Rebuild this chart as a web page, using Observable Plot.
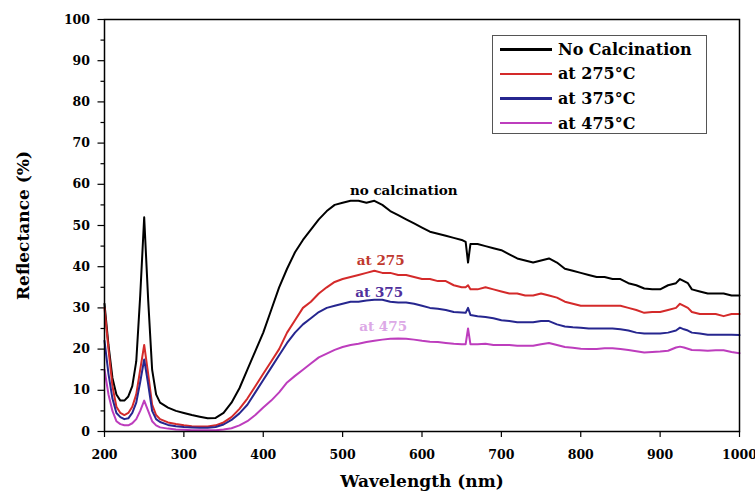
<!DOCTYPE html>
<html>
<head>
<meta charset="utf-8">
<script src="https://cdn.jsdelivr.net/npm/d3@7"></script>
<script src="https://cdn.jsdelivr.net/npm/@observablehq/plot@0.6"></script>
<style>
  html, body { margin: 0; padding: 0; background: #fff; }
  #wrap { position: relative; width: 755px; height: 492px; }
  #legend {
    position: absolute; left: 492px; top: 35px; width: 215px; height: 99px;
    box-sizing: border-box; border: 1px solid #555; background: #fff;
    padding-top: 1px; font-family: 'DejaVu Serif'; font-weight: bold; font-size: 16px; color: #000;
  }
  .row { height: 24.6px; display: flex; align-items: center; white-space: nowrap; }
  .sw { width: 52px; height: 2.6px; margin-left: 7px; margin-right: 6px; flex: none; }
</style>
</head>
<body>
<div id="wrap"></div>
<script>
// ---- data ----
const wl = [200,205,210,215,220,225,230,235,240,245,
  250,255,260,265,270,
  280,290,300,310,320,330,340,350,360,370,
  380,390,400,410,420,430,440,450,460,470,
  480,490,500,510,520,530,540,550,560,570,
  580,590,600,610,620,630,640,650,655,658,
  661,670,680,690,700,710,720,730,740,750,
  760,770,780,790,800,810,820,830,840,850,
  860,870,880,890,900,910,920,925,930,935,
  940,950,960,970,980,990,1000];

const noCalc = [31,21,13,9,7.5,7.5,8.5,11,17,33,
  52,32,15,9,7,
  5.8,5,4.5,4,3.6,3.2,3.3,4.5,7,10.5,
  15,19.5,24,29.5,35,39.5,43.5,46.5,49,51.5,
  53.5,55,55.5,56,56,55.5,56,55,53.5,52.5,
  51.5,50.5,49.5,48.5,48,47.5,47,46.5,46,41,
  45.5,45.5,45,44.5,44,43,42,41.5,41,41.5,
  42,41,39.5,39,38.5,38,37.5,37.5,37,37,
  36,35.5,34.7,34.5,34.5,35.5,36,37,36.5,36,
  34.5,34,33.5,33.5,33.5,33,33];

const at275 = [30,20,11,6,4.5,4,4.5,6,9,15,
  21,14,6.5,4,3,
  2.2,1.8,1.5,1.3,1.2,1.2,1.5,2.2,3.5,5.5,
  8,11,14,17,20,24,27,30,31.5,33.5,
  35,36.3,37,37.5,38,38.5,39,38.5,38.5,38,
  38,37.5,37,37,36.5,36.5,35.5,35,35,35.5,
  34.5,34.5,35,34.5,34,33.5,33.5,33,33,33.5,
  33,32.5,31.5,31,30.5,30.5,30.5,30.5,30.5,30.5,
  30,29.5,28.8,29,29,29.5,30,31,30.5,30,
  29,28.5,28.5,28.5,28,28.5,28.5];

const at375 = [22,14,8,4.5,3.5,3,3.2,4.5,7,12,
  17.5,11.5,5,3,2.3,
  1.6,1.3,1.1,1,0.9,0.9,1.1,1.7,2.8,4.4,
  6.5,9.5,12.5,15.5,18.5,21.5,24,26,27.5,29,
  30,30.5,31,31.5,31.5,31.8,32,32,31.5,31.3,
  31.3,31,30.5,30,29.8,29.5,29,28.9,28.8,30,
  28.3,28,27.8,27.5,27,26.8,26.5,26.5,26.5,26.8,
  26.8,26,25.5,25.3,25.2,25,25,25,25,24.8,
  24.5,24,23.8,23.8,23.8,24,24.5,25.2,24.8,24.5,
  24,23.8,23.5,23.5,23.5,23.5,23.4];

const at475 = [15,9,5,2.5,1.8,1.5,1.5,2,3,5,
  7.5,5,2.5,1.5,1,
  0.7,0.5,0.4,0.3,0.3,0.3,0.3,0.5,0.8,1.5,
  2.5,4,5.8,7.5,9.5,11.9,13.5,15,16.5,18,
  18.9,19.8,20.5,21,21.3,21.7,22,22.3,22.5,22.6,
  22.5,22.3,22,21.8,21.7,21.5,21.3,21.2,21.2,25,
  21.2,21.2,21.3,21,21,21,20.8,20.8,20.8,21.2,
  21.5,21,20.5,20.3,20.1,20,20,20.2,20.2,20,
  19.8,19.5,19.2,19.3,19.4,19.6,20.4,20.6,20.4,20.1,
  19.8,19.7,19.6,19.7,19.7,19.3,19];

const seriesNames = ["No Calcination", "at 275°C", "at 375°C", "at 475°C"];
const seriesValues = [noCalc, at275, at375, at475];
const seriesColors = ["#000000", "#d42a2a", "#26268f", "#bd3dbd"];

const annLabels = ["no calcination", "at 275", "at 375", "at 475"];
const annX = [577, 548, 546, 551];
const annY = [58.5, 41.5, 33.7, 25.5];
const annColors = ["#000000", "#c0392f", "#50309c", "#dca8e6"];

const xTicks = [200, 300, 400, 500, 600, 700, 800, 900, 1000];
const yTicks = [0, 10, 20, 30, 40, 50, 60, 70, 80, 90, 100];
const yMinorTicks = [5, 15, 25, 35, 45, 55, 65, 75, 85, 95];

const rows = [];
seriesNames.forEach((s, i) => {
  wl.forEach((w, j) => rows.push({series: s, wl: w, v: seriesValues[i][j]}));
});
const ann = annLabels.map((t, i) => ({t, x: annX[i], y: annY[i], c: annColors[i]}));

const chart = Plot.plot({
  width: 755,
  height: 492,
  marginLeft: 104,
  marginRight: 16,
  marginTop: 19,
  marginBottom: 61,
  style: {fontFamily: "DejaVu Serif", fontWeight: "bold", fontSize: "12.5px", color: "#000", background: "#fff"},
  x: {domain: [200, 1000]},
  y: {domain: [0, 100]},
  color: {domain: seriesNames, range: seriesColors},
  marks: [
    Plot.axisY(yMinorTicks, {tickSize: 3.5, text: null, label: null, strokeWidth: 1.2}),
    Plot.axisY(yTicks, {tickSize: 6.5, tickPadding: 8, tickFormat: d => String(d), label: null, strokeWidth: 1.2}),
    Plot.axisX(xTicks, {tickSize: 6, tickPadding: 13, tickFormat: d => String(d), label: null, strokeWidth: 1.2}),
    Plot.line(rows, {x: "wl", y: "v", z: "series", stroke: "series", strokeWidth: 2, curve: "linear"}),
    Plot.text(ann, {x: "x", y: "y", text: "t", fill: "c", fontSize: 13.5, fontWeight: "bold"}),
    Plot.text(["Wavelength (nm)"], {frameAnchor: "bottom", dy: 50, lineAnchor: "middle", fontSize: 17, fontWeight: "bold"}),
    Plot.text(["Reflectance (%)"], {frameAnchor: "left", dx: -81, rotate: -90, textAnchor: "middle", lineAnchor: "middle", fontSize: 17, fontWeight: "bold"}),
    Plot.frame({stroke: "#000", strokeWidth: 1.5})
  ]
});

const wrap = document.getElementById("wrap");
wrap.appendChild(chart);

// legend
const legend = document.createElement("div");
legend.id = "legend";
seriesNames.forEach((s, i) => {
  const r = document.createElement("div");
  r.className = "row";
  const sw = document.createElement("span");
  sw.className = "sw";
  sw.style.background = seriesColors[i];
  const lab = document.createElement("span");
  lab.textContent = s;
  r.appendChild(sw); r.appendChild(lab);
  legend.appendChild(r);
});
wrap.appendChild(legend);
</script>
</body>
</html>
